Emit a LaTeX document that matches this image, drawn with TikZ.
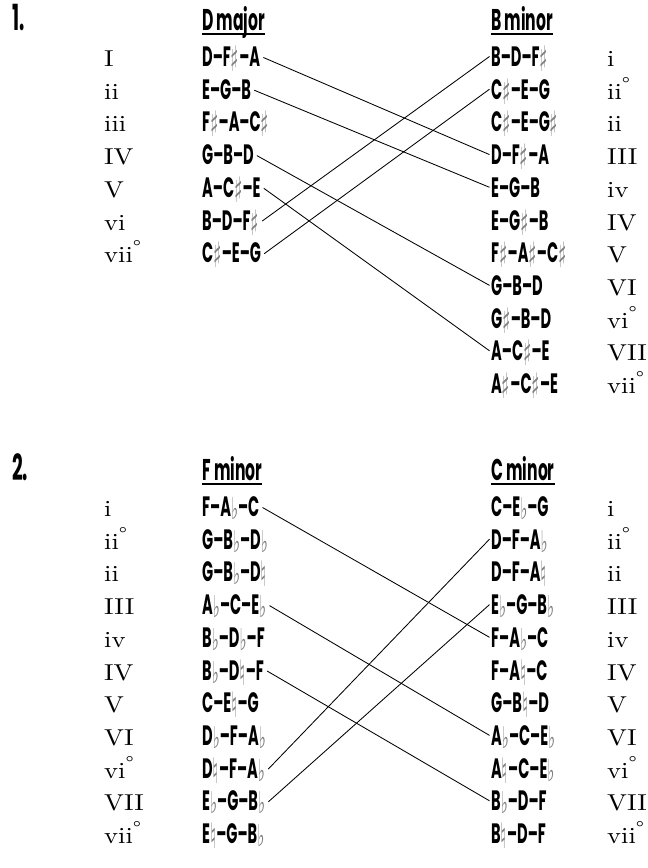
\documentclass[tikz,border=0pt]{standalone}
\usepackage{fontspec}
\newfontfamily\chordfont{Poppins}[FakeStretch=0.52]
\newfontfamily\accfont{DejaVu Sans}[FakeStretch=0.5]
\newfontfamily\rnfont{lmroman10-regular.otf}[FakeStretch=1.15]
\definecolor{accgray}{gray}{0.5}
\newcommand\accS{\smash{\raisebox{-5pt}{\textcolor{accgray}{\accfont\fontsize{35}{35}\selectfont ♯}}}}
\newcommand\accF{\smash{\raisebox{-3pt}{\textcolor{accgray}{\accfont\fontsize{30}{30}\selectfont ♭}}}}
\newcommand\accN{\smash{\raisebox{-5pt}{\textcolor{accgray}{\accfont\fontsize{35}{35}\selectfont ♮}}}}
\newcommand\dg{\textsuperscript{\fontsize{19}{19}\selectfont °}}
\tikzset{
  chord/.style={font=\chordfont\bfseries\fontsize{28}{28}\selectfont, inner sep=0pt, anchor=base west},
  head/.style={font=\chordfont\bfseries\fontsize{30}{30}\selectfont, inner sep=0pt, anchor=base west},
  num/.style={font=\chordfont\bfseries\fontsize{36}{36}\selectfont, inner sep=0pt, anchor=base west},
  rn/.style={font=\rnfont\fontsize{23}{23}\selectfont, inner sep=0pt, anchor=base west},
  uline/.style={line width=1.4pt},
  link/.style={line width=0.85pt}
}
\begin{document}
\begin{tikzpicture}[x=1pt,y=-1pt]
\useasboundingbox (0,0) rectangle (648,868);
% ---------- section 1 ----------
\node[num] (n1) at (12,30.5) {1.};
\node[head] (h1a) at (202,30.5) {D major};
\node[head] (h1b) at (491,30.5) {B minor};
\draw[uline] ([yshift=-3.5pt]h1a.base west) -- ([yshift=-3.5pt]h1a.base east);
\draw[uline] ([yshift=-3.5pt]h1b.base west) -- ([yshift=-3.5pt]h1b.base east);
\foreach \t [count=\i] in {I,ii,iii,IV,V,vi,vii\dg}
  \node[rn] (p\i) at (104,66.5+32.7*\i-32.7) {\t};
\foreach \t [count=\i] in {D–F\accS–A,E–G–B,F\accS–A–C\accS,G–B–D,A–C\accS–E,B–D–F\accS,C\accS–E–G}
  \node[chord] (a\i) at (202,66.5+32.7*\i-32.7) {\t};
\foreach \t [count=\i] in {B–D–F\accS,C\accS–E–G,C\accS–E–G\accS,D–F\accS–A,E–G–B,E–G\accS–B,F\accS–A\accS–C\accS,G–B–D,G\accS–B–D,A–C\accS–E,A\accS–C\accS–E}
  \node[chord] (b\i) at (491,66.5+32.7*\i-32.7) {\t};
\foreach \t [count=\i] in {i,ii\dg,ii,III,iv,IV,V,VI,vi\dg,VII,vii\dg}
  \node[rn] (q\i) at (607,66.5+32.7*\i-32.7) {\t};
\foreach \s/\e in {1/4,2/5,4/8,5/10,6/1,7/2}
  \draw[link] ([xshift=3pt,yshift=9pt]a\s.base east) -- ([xshift=-1.5pt,yshift=10pt]b\e.base west);
% ---------- section 2 ----------
\node[num] (n2) at (12,480.5) {2.};
\node[head] (h2a) at (202,480.5) {F minor};
\node[head] (h2b) at (491,480.5) {C minor};
\draw[uline] ([yshift=-3.5pt]h2a.base west) -- ([yshift=-3.5pt]h2a.base east);
\draw[uline] ([yshift=-3.5pt]h2b.base west) -- ([yshift=-3.5pt]h2b.base east);
\foreach \t [count=\i] in {i,ii\dg,ii,III,iv,IV,V,VI,vi\dg,VII,vii\dg}
  \node[rn] (r\i) at (104,516.5+32.7*\i-32.7) {\t};
\foreach \t [count=\i] in {F–A\accF–C,G–B\accF–D\accF,G–B\accF–D\accN,A\accF–C–E\accF,B\accF–D\accF–F,B\accF–D\accN–F,C–E\accN–G,D\accF–F–A\accF,D\accN–F–A\accF,E\accF–G–B\accF,E\accN–G–B\accF}
  \node[chord] (c\i) at (202,516.5+32.7*\i-32.7) {\t};
\foreach \t [count=\i] in {C–E\accF–G,D–F–A\accF,D–F–A\accN,E\accF–G–B\accF,F–A\accF–C,F–A\accN–C,G–B\accN–D,A\accF–C–E\accF,A\accN–C–E\accF,B\accF–D–F,B\accN–D–F}
  \node[chord] (d\i) at (491,516.5+32.7*\i-32.7) {\t};
\foreach \t [count=\i] in {i,ii\dg,ii,III,iv,IV,V,VI,vi\dg,VII,vii\dg}
  \node[rn] (s\i) at (607,516.5+32.7*\i-32.7) {\t};
\foreach \s/\e in {1/5,4/8,6/10,9/2,10/4}
  \draw[link] ([xshift=3pt,yshift=9pt]c\s.base east) -- ([xshift=-1.5pt,yshift=10pt]d\e.base west);
\end{tikzpicture}
\end{document}
